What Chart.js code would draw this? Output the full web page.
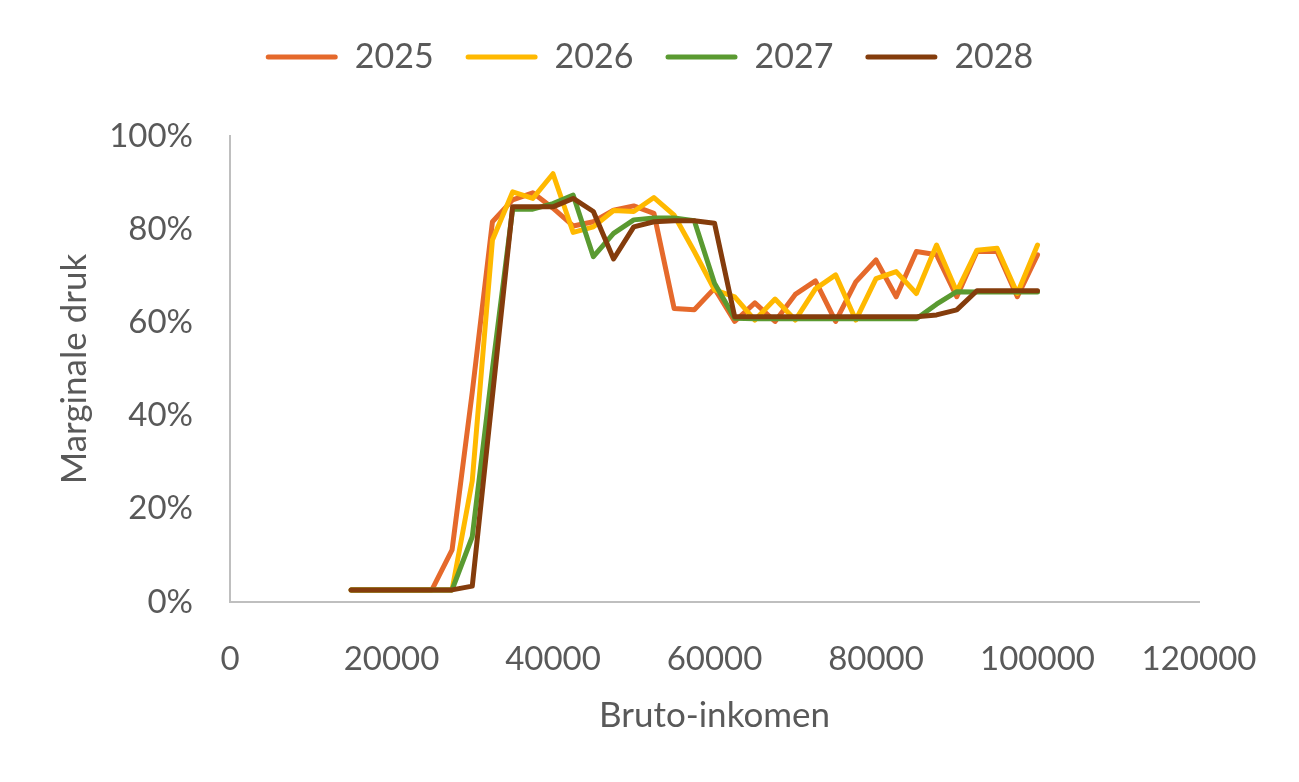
<!DOCTYPE html>
<html>
<head>
<meta charset="utf-8">
<title>Marginale druk</title>
<script src="https://cdn.jsdelivr.net/npm/chart.js@4.4.0/dist/chart.umd.min.js"></script>
<style>
html, body { margin: 0; padding: 0; background: #ffffff; }
canvas { display: block; }
</style>
</head>
<body>
<canvas id="graph" width="1299" height="782"></canvas>
<script>
var incomes = [15000, 17500, 20000, 22500, 25000, 27500, 30000, 32500, 35000, 37500,
	40000, 42500, 45000, 47500, 50000, 52500, 55000, 57500, 60000, 62500,
	65000, 67500, 70000, 72500, 75000, 77500, 80000, 82500, 85000, 87500,
	90000, 92500, 95000, 97500, 100000];

var druk2025 = [2.6, 2.6, 2.6, 2.6, 2.6, 11.2, 45, 81.6, 86.3, 87.8,
	84.5, 80.7, 81.6, 84.1, 85, 83.4, 63, 62.7, 67.3, 60.2,
	64.2, 60.2, 66, 68.9, 60.2, 68.7, 73.4, 65.5, 75.2, 74.5,
	65.5, 75.2, 75.2, 65.5, 74.5];
var druk2026 = [2.6, 2.6, 2.6, 2.6, 2.6, 2.6, 26, 77.7, 88, 86.6,
	91.9, 79.3, 80.5, 84, 83.8, 86.8, 83, 75.2, 67, 65.5,
	60.5, 65, 60.5, 67.2, 70.2, 60.5, 69.4, 70.9, 66.2, 76.6,
	66.6, 75.5, 75.9, 66.2, 76.6];
var druk2027 = [2.6, 2.6, 2.6, 2.6, 2.6, 2.6, 14, 50, 84.3, 84.3,
	85.5, 87.3, 74.1, 79.1, 82, 82.4, 82.4, 81.8, 68.4, 60.9,
	60.8, 60.8, 60.8, 60.8, 60.8, 60.8, 60.8, 60.8, 60.8, 63.9,
	66.6, 66.5, 66.5, 66.5, 66.5];
var druk2028 = [2.6, 2.6, 2.6, 2.6, 2.6, 2.6, 3.4, 44.2, 84.8, 84.8,
	84.8, 86.6, 83.8, 73.6, 80.5, 81.6, 81.8, 81.8, 81.3, 61.2,
	61.2, 61.2, 61.2, 61.2, 61.2, 61.2, 61.2, 61.2, 61.2, 61.6,
	62.7, 66.8, 66.8, 66.8, 66.8];

var years = ["2025", "2026", "2027", "2028"];
var xTicks = [0, 20000, 40000, 60000, 80000, 100000, 120000];
var yTicks = [0, 20, 40, 60, 80, 100];

var textColor = "#595959";
var fontName = "Lato, 'Open Sans', sans-serif";

function points(values) {
	return incomes.map(function(inc, i) { return { x: inc, y: values[i] }; });
}

function serie(label, values, color, order) {
	return {
		label: label,
		data: points(values),
		borderColor: color,
		backgroundColor: color,
		borderWidth: 5,
		borderJoinStyle: "round",
		borderCapStyle: "round",
		pointRadius: 0,
		pointHoverRadius: 0,
		tension: 0,
		fill: false,
		order: order
	};
}

// extra room under the legend
var legendGap = {
	id: "legendGap",
	beforeInit: function(chart) {
		var fit = chart.legend.fit;
		chart.legend.fit = function() {
			fit.bind(chart.legend)();
			this.height += 52;
		};
	}
};

var ctx = document.getElementById("graph");
var graph = new Chart(ctx, {
	type: "line",
	data: {
		datasets: [
			serie(years[0], druk2025, "#E5692B", 3),
			serie(years[1], druk2026, "#FFB900", 2),
			serie(years[2], druk2027, "#5A9A31", 1),
			serie(years[3], druk2028, "#843C0C", 0)
		]
	},
	options: {
		responsive: false,
		animation: false,
		devicePixelRatio: 1,
		layout: { padding: { top: 8, left: 0, right: 0, bottom: 0 } },
		plugins: {
			tooltip: { enabled: false },
			legend: {
				position: "top",
				labels: {
					boxWidth: 72,
					boxHeight: 5,
					padding: 32,
					color: textColor,
					font: { family: fontName, size: 34 },
					sort: function(a, b) { return a.datasetIndex - b.datasetIndex; },
					generateLabels: function(chart) {
						var items = Chart.defaults.plugins.legend.labels.generateLabels(chart);
						items.forEach(function(it) {
							it.lineWidth = 0;
							it.borderRadius = 2.5;
						});
						return items;
					}
				}
			}
		},
		scales: {
			x: {
				type: "linear",
				min: 0,
				max: 120000,
				grid: { display: false, drawTicks: false },
				border: { display: true, color: "#BFBFBF", width: 2 },
				afterBuildTicks: function(axis) {
					axis.ticks = xTicks.map(function(v) { return { value: v }; });
				},
				afterFit: function(scale) {
					scale.height = 180;
					scale.paddingRight = 100;
				},
				ticks: {
					autoSkip: false,
					maxRotation: 0,
					padding: 38,
					color: textColor,
					font: { family: fontName, size: 33 },
					callback: function(v) { return String(v); }
				},
				title: {
					display: true,
					text: "Bruto-inkomen",
					color: textColor,
					font: { family: fontName, size: 35 },
					padding: { top: 0, bottom: 45 }
				}
			},
			y: {
				min: 0,
				max: 100,
				grid: { display: false, drawTicks: false },
				border: { display: true, color: "#BFBFBF", width: 2 },
				afterBuildTicks: function(axis) {
					axis.ticks = yTicks.map(function(v) { return { value: v }; });
				},
				afterFit: function(scale) {
					scale.width = 230;
				},
				ticks: {
					padding: 37,
					color: textColor,
					font: { family: fontName, size: 33 },
					callback: function(v) { return v + "%"; }
				},
				title: {
					display: true,
					text: "Marginale druk",
					color: textColor,
					font: { family: fontName, size: 35 },
					padding: { top: 54, bottom: 0 }
				}
			}
		}
	},
	plugins: [legendGap]
});
</script>
</body>
</html>
